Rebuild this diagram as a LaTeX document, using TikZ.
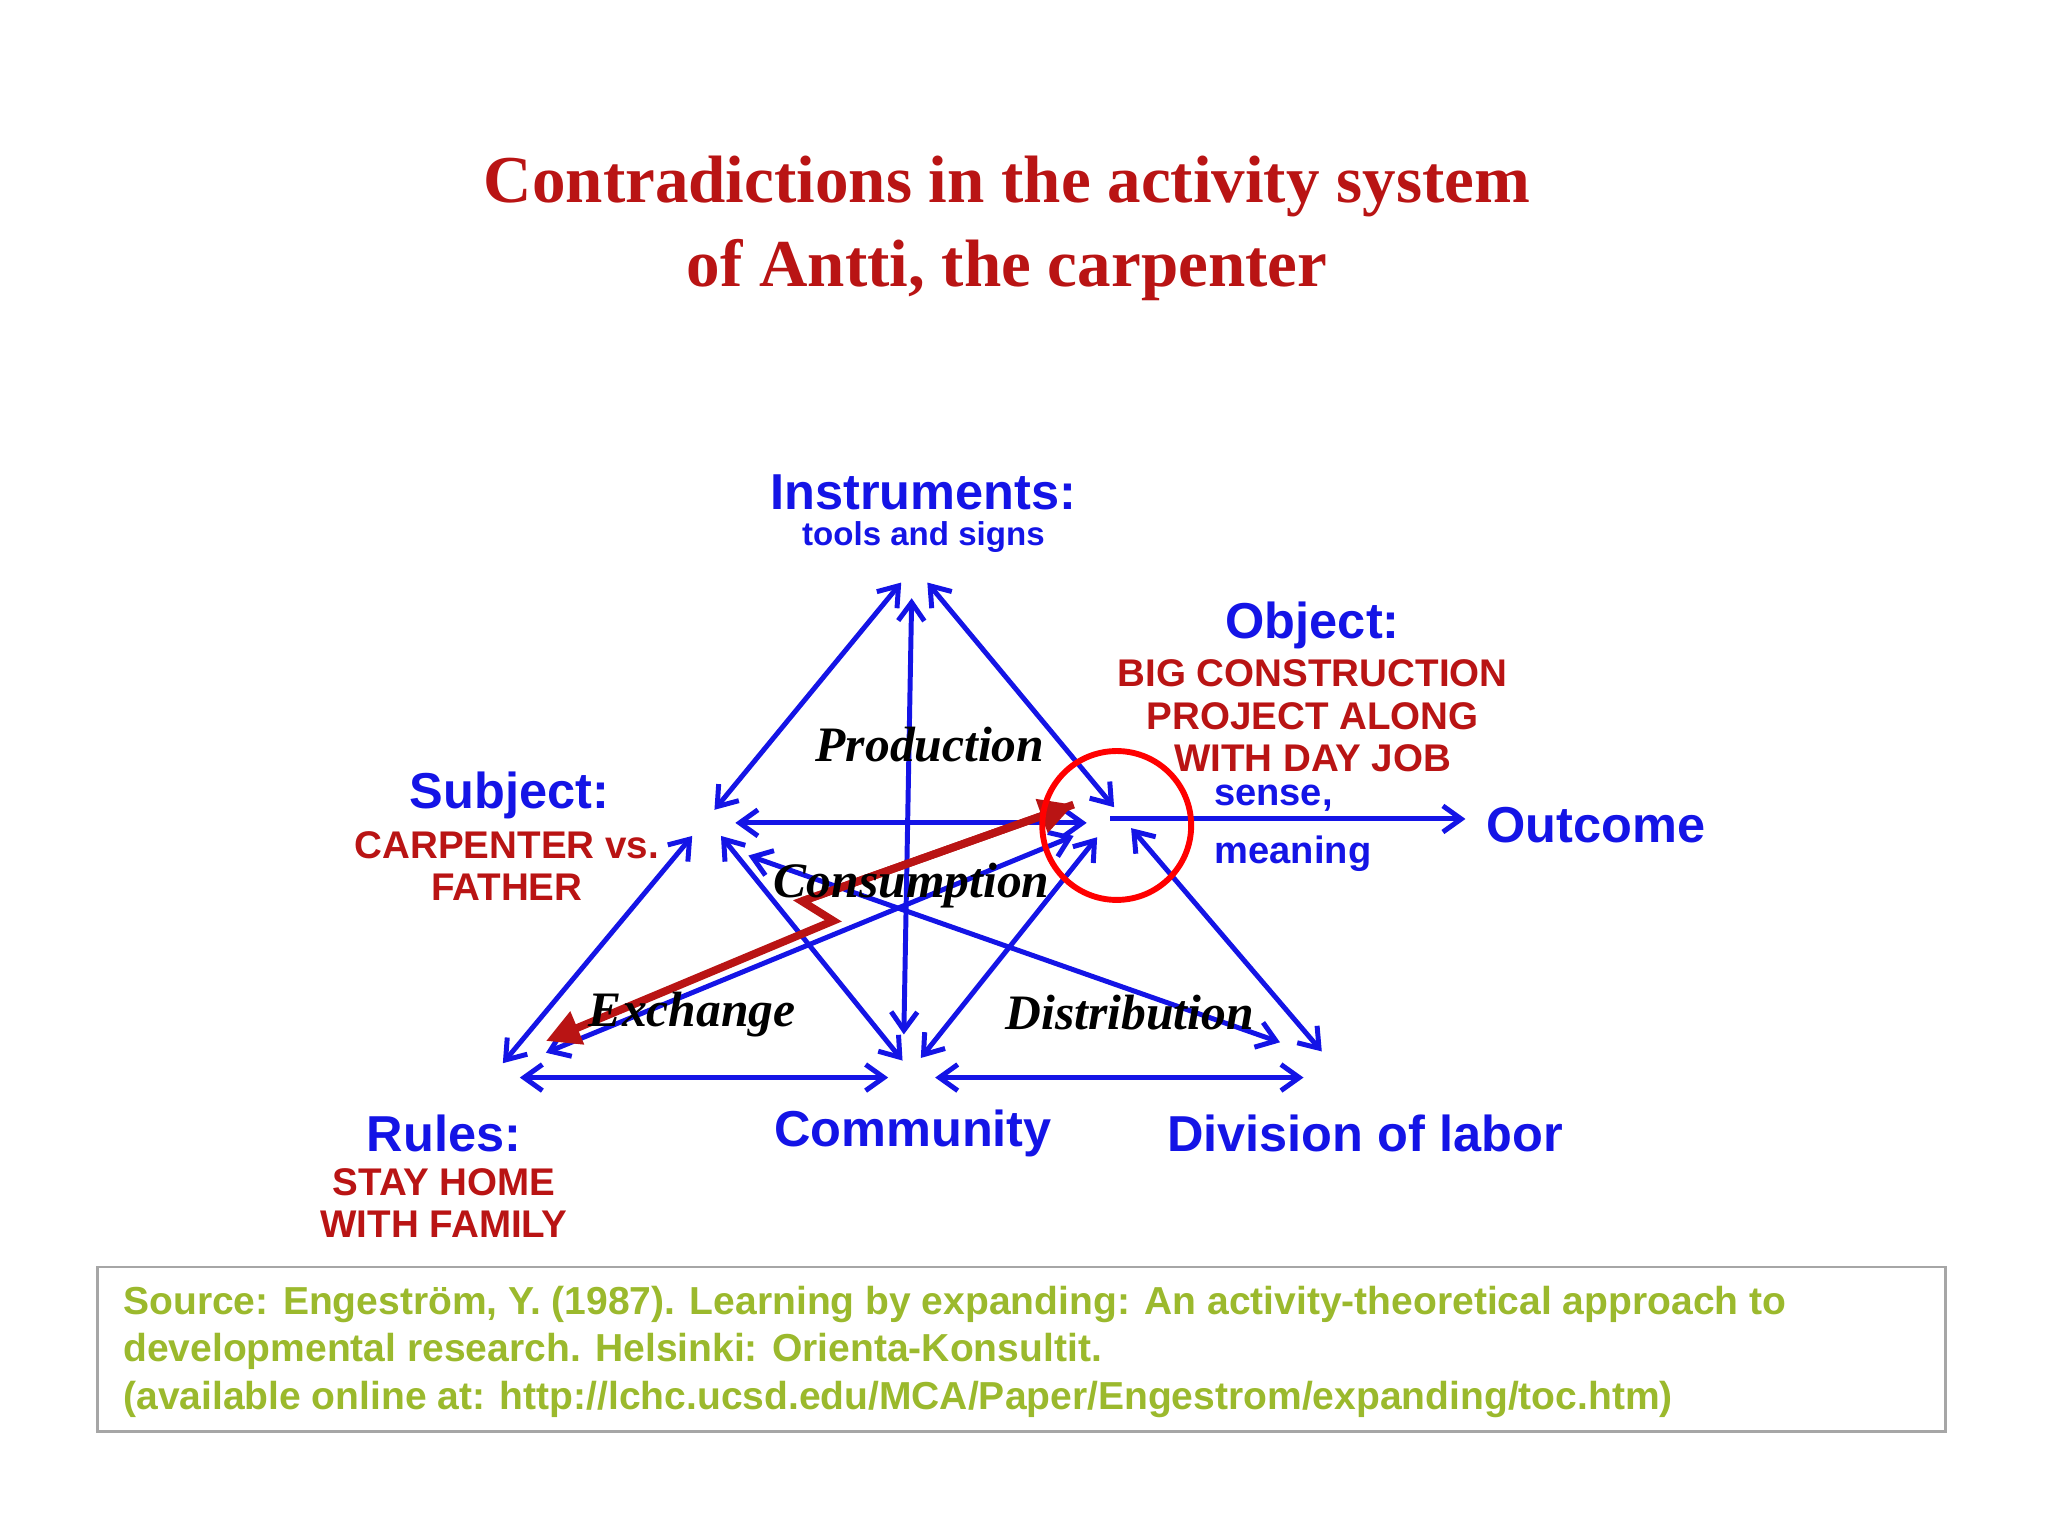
\documentclass[tikz,border=0pt]{standalone}
\usepackage{fontspec}
\setmainfont{Liberation Serif}
\setsansfont{Liberation Sans}
\usetikzlibrary{arrows.meta}
\definecolor{tblue}{RGB}{20,20,230}
\definecolor{tred}{RGB}{185,20,20}
\definecolor{tgreen}{RGB}{155,185,45}
\begin{document}
\begin{tikzpicture}[x=0.1mm,y=-0.1mm,
  con/.style={draw=tblue,line width=0.38mm,{Straight Barb[length=1.4mm,width=2mm]}-{Straight Barb[length=1.4mm,width=2mm]}},
  conr/.style={draw=tblue,line width=0.38mm,-{Straight Barb[length=1.4mm,width=2mm]}},
  big/.style={text=tblue,font=\sffamily\bfseries\fontsize{11}{12}\selectfont},
  small/.style={text=tblue,font=\sffamily\bfseries\fontsize{7.2}{8.5}\selectfont},
  redl/.style={text=tred,font=\sffamily\bfseries\fontsize{8.4}{9.3}\selectfont,align=center},
  act/.style={font=\rmfamily\bfseries\itshape\fontsize{10.8}{12}\selectfont}]
\useasboundingbox (0,0) rectangle (1568,1176);
\node[text=tred,font=\rmfamily\bfseries\fontsize{14.6}{18.2}\selectfont,align=center] (title) at (771,175) {Contradictions in the activity system\\of Antti, the carpenter};
% corners
\coordinate (I1) at (690,446); \coordinate (I2) at (710,446); \coordinate (I3) at (698,458);
\coordinate (S1) at (547,620); \coordinate (S2) at (563,630); \coordinate (S3) at (530,640); \coordinate (S4) at (552,640); \coordinate (S5) at (573,655);
\coordinate (O1) at (853,618); \coordinate (O2) at (832,630); \coordinate (O3) at (850,627); \coordinate (O4) at (840,641); \coordinate (O5) at (866,634); \coordinate (O6) at (822,640);
\coordinate (R1) at (385,814); \coordinate (R2) at (418,806); \coordinate (R3) at (398,825);
\coordinate (C1) at (692,792); \coordinate (C2) at (691,812); \coordinate (C3) at (705,810); \coordinate (C4) at (680,825); \coordinate (C5) at (716,825);
\coordinate (D1) at (1012,805); \coordinate (D2) at (980,798); \coordinate (D3) at (998,825);
\coordinate (Out) at (1122,627);
\draw[con] (I1) -- (S1);
\draw[con] (I2) -- (O1);
\draw[con] (I3) -- (C1);
\draw[con] (S2) -- (O2);
\draw[conr] (O3) -- (Out);
\draw[con] (S3) -- (R1);
\draw[con] (S4) -- (C2);
\draw[con] (O4) -- (C3);
\draw[con] (O5) -- (D1);
\draw[con] (O6) -- (R2);
\draw[con] (S5) -- (D2);
\draw[con] (R3) -- (C4);
\draw[con] (C5) -- (D3);
% red zigzag
\coordinate (Z0) at (822,616); \coordinate (Z1) at (614,690); \coordinate (Z2) at (638,705); \coordinate (Z3) at (418,797);
\draw[draw=tred,line width=0.6mm,-{Triangle[length=2.6mm,width=2.6mm]}] (Z0) -- (Z1) -- (Z2) -- (Z3);
\draw[draw=tred,line width=0.6mm,-{Triangle[length=2.6mm,width=2.6mm]}] (Z1) -- (Z0);
\node[draw=red,line width=0.45mm,circle,minimum size=11.4mm] (circ) at (855,632) {};
% labels
\node[big] (inst) at (707,377) {Instruments:};
\node[small] (tools) at (707,411) {tools and signs};
\node[big] (obj) at (1005,479) {Object:};
\node[redl] (objt) at (1005,548) {BIG CONSTRUCTION\\PROJECT ALONG\\WITH DAY JOB};
\node[small,font=\sffamily\bfseries\fontsize{8.3}{9}\selectfont] (sense) at (975,611) {sense,};
\node[small,font=\sffamily\bfseries\fontsize{8.3}{9}\selectfont] (mean) at (990,654) {meaning};
\node[big] (outc) at (1222,632) {Outcome};
\node[big] (subj) at (390,609) {Subject:};
\node[redl] (subjt) at (388,663) {CARPENTER vs.\\FATHER};
\node[big] (rules) at (340,868) {Rules:};
\node[redl] (rulest) at (340,921) {STAY HOME\\WITH FAMILY};
\node[big] (comm) at (699,868) {Community};
\node[big] (div) at (1045,868) {Division of labor};
\node[act] (prod) at (712,570) {Production};
\node[act] (cons) at (698,678) {Consumption};
\node[act] (exch) at (530,777) {Exchange};
\node[act] (dist) at (865,775) {Distribution};
\node[draw=gray!70,line width=0.2mm,minimum width=141.5mm,minimum height=12.6mm] (box) at (782,1033) {};
\node[anchor=west,text=tgreen,font=\sffamily\bfseries\fontsize{8.5}{10.3}\selectfont,align=left] (src) at (82,1035) {Source: Engeström, Y. (1987). Learning by expanding: An activity-theoretical approach to\\developmental research. Helsinki: Orienta-Konsultit.\\(available online at: http://lchc.ucsd.edu/MCA/Paper/Engestrom/expanding/toc.htm)};
\end{tikzpicture}
\end{document}
